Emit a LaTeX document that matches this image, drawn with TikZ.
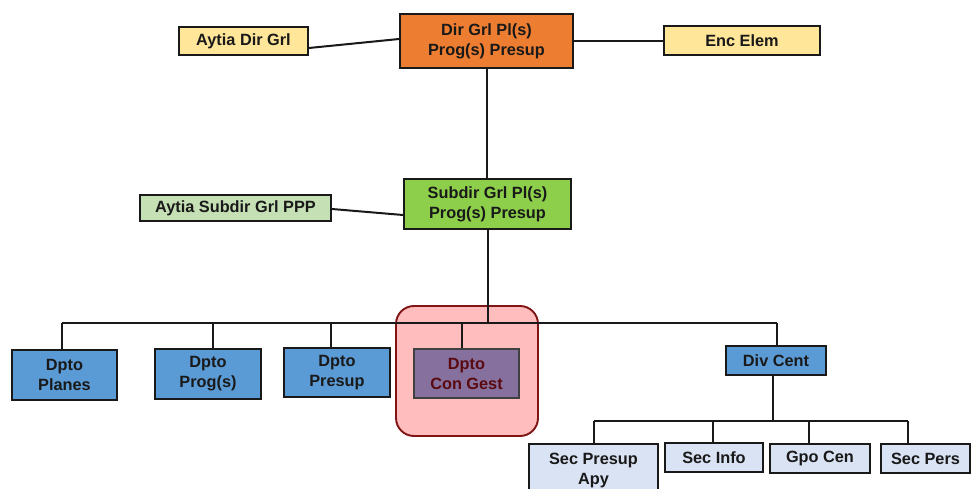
\documentclass[tikz,border=0pt]{standalone}
\usepackage{fontspec}
\setmainfont{Liberation Sans}
\begin{document}
\begin{tikzpicture}[x=1pt,y=-1pt,
  box/.style={draw=black!90, line width=1.9pt, align=center, inner sep=0pt,
    font=\bfseries\fontsize{16.3}{20}\selectfont, text=black!90},
  link/.style={draw=black!90, line width=2pt},
]
\definecolor{orangeC}{HTML}{ED7D31}
\definecolor{yellowC}{HTML}{FFE699}
\definecolor{greenC}{HTML}{8DCF4A}
\definecolor{lgreenC}{HTML}{C5E0B4}
\definecolor{blueC}{HTML}{5B9BD5}
\definecolor{lblueC}{HTML}{DAE3F3}
\definecolor{pinkC}{HTML}{FFBDBD}
\definecolor{dredC}{HTML}{801515}
\definecolor{purpC}{HTML}{85709E}
\definecolor{ptextC}{HTML}{5A0A10}

\useasboundingbox (0,0) rectangle (972,489);
\fill[white] (0,0) rectangle (972,489);

% top level
\node[box, fill=orangeC, minimum width=173pt, minimum height=54pt] (dir) at (486.5,41) {Dir Grl Pl(s)\\Prog(s) Presup};
\node[box, fill=yellowC, minimum width=129pt, minimum height=28pt] (aydir) at (243.5,41) {Aytia Dir Grl};
\node[box, fill=yellowC, minimum width=156pt, minimum height=29pt] (enc) at (742,40.5) {Enc Elem};

% second level
\node[box, fill=greenC, minimum width=167pt, minimum height=50pt] (sub) at (487.5,204) {Subdir Grl Pl(s)\\Prog(s) Presup};
\node[box, fill=lgreenC, minimum width=191pt, minimum height=26pt] (aysub) at (235.5,208) {Aytia Subdir Grl PPP};

% highlighted department
\node[draw=dredC, line width=1.9pt, fill=pinkC, rounded corners=18pt,
  minimum width=142pt, minimum height=130pt] (hl) at (467,371) {};

% departments
\node[box, fill=blueC, minimum width=105pt, minimum height=50pt] (planes) at (64.5,375) {Dpto\\Planes};
\node[box, fill=blueC, minimum width=106pt, minimum height=50pt] (prog) at (208,374) {Dpto\\Prog(s)};
\node[box, fill=blueC, minimum width=106pt, minimum height=49pt] (presup) at (337,372.5) {Dpto\\Presup};
\node[box, draw=black!75, fill=purpC, text=ptextC, minimum width=105pt, minimum height=49pt] (cong) at (466.5,373.5) {Dpto\\Con Gest};
\node[box, fill=blueC, minimum width=100pt, minimum height=29pt] (div) at (776,360.5) {Div Cent};

% sections
\node[box, fill=lblueC, minimum width=129pt, minimum height=52pt] (spa) at (593.5,470) {Sec Presup\\Apy};
\node[box, fill=lblueC, minimum width=98pt, minimum height=29pt] (info) at (714,457.5) {Sec Info};
\node[box, fill=lblueC, minimum width=100pt, minimum height=29pt] (gpo) at (820,458.5) {Gpo Cen};
\node[box, fill=lblueC, minimum width=89pt, minimum height=29pt] (pers) at (925.5,458.5) {Sec Pers};

% connectors, top part
\draw[link] ([yshift=-7pt]aydir.east) -- ([yshift=2pt]dir.west);
\draw[link] (dir.east) -- (dir.east -| enc.west);
\draw[link] (dir.south) -- (dir.south |- sub.north);
\draw[link] ([yshift=-1pt]aysub.east) -- ([yshift=-11pt]sub.west);

% department bus
\coordinate (busL) at (62,323);
\coordinate (busR) at (777,323);
\draw[link] (sub.south) -- (sub.south |- busL);
\draw[link] (busL) -- (busR);
\draw[link] ([xshift=-2.5pt]planes.north) -- ([xshift=-2.5pt]planes.north |- busL);
\draw[link] ([xshift=5pt]prog.north) -- ([xshift=5pt]prog.north |- busL);
\draw[link] ([xshift=-6pt]presup.north) -- ([xshift=-6pt]presup.north |- busL);
\draw[link] ([xshift=-4.5pt]cong.north) -- ([xshift=-4.5pt]cong.north |- busL);
\draw[link] ([xshift=1pt]div.north) -- ([xshift=1pt]div.north |- busR);

% section bus
\coordinate (secL) at (594,421);
\coordinate (secR) at (908,421);
\draw[link] ([xshift=-3pt]div.south) -- ([xshift=-3pt]div.south |- secL);
\draw[link] (secL) -- (secR);
\draw[link] ([xshift=0.5pt]spa.north) -- ([xshift=0.5pt]spa.north |- secL);
\draw[link] ([xshift=-1pt]info.north) -- ([xshift=-1pt]info.north |- secL);
\draw[link] ([xshift=-11pt]gpo.north) -- ([xshift=-11pt]gpo.north |- secL);
\draw[link] ([xshift=-17.5pt]pers.north) -- ([xshift=-17.5pt]pers.north |- secL);
\end{tikzpicture}
\end{document}
